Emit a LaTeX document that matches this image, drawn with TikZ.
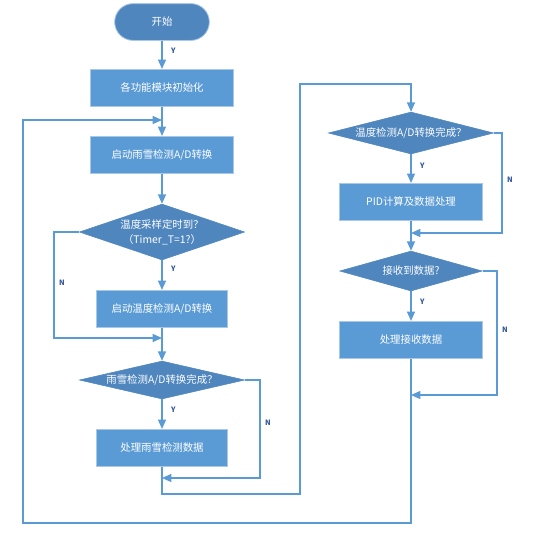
\documentclass[tikz,border=0pt]{standalone}
\usepackage{fontspec}
\setmainfont{Noto Sans CJK SC}
\usetikzlibrary{shapes.geometric,arrows.meta}
\definecolor{boxblue}{HTML}{5B9BD5}
\definecolor{decblue}{HTML}{4F86BE}
\definecolor{rimblue}{HTML}{A9C8E8}
\definecolor{tagblue}{HTML}{2F5597}
\begin{document}
\begin{tikzpicture}[x=0.75pt,y=-0.75pt,
    proc/.style={rectangle,fill=boxblue,draw=rimblue,line width=0.6pt,inner sep=0,
      minimum width=107pt,minimum height=28pt,text=white,font=\fontsize{7.8}{10}\selectfont},
    dec/.style={diamond,fill=decblue,draw=decblue,inner sep=0,minimum width=124pt},
    dtext/.style={text=white,font=\fontsize{7.8}{11}\selectfont,align=center},
    term/.style={rectangle,rounded corners=13.8pt,fill=decblue,draw=rimblue,line width=0.6pt,
      minimum width=71pt,minimum height=27.6pt,text=white,font=\fontsize{7.8}{10}\selectfont},
    flow/.style={draw=boxblue,line width=0.9pt},
    go/.style={flow,-{Triangle[length=7pt,width=6pt]}},
    tag/.style={text=tagblue,font=\fontsize{5.5}{6}\selectfont\bfseries}]

    \useasboundingbox (0,0) rectangle (538,537);

    %% Flow chart of main loop

    % Left column
    \node[term] (start) at (162,22) {开始};
    \node[proc] (init) at (162,88) {各功能模块初始化};
    \node[proc] (rain) at (162,155) {启动雨雪检测A/D转换};
    \node[dec,minimum height=42pt,label={[dtext]center:温度采样定时到？\\（Timer\_T=1?）}] (timer) at (162,232) {};
    \node[proc,minimum width=98pt] (temp) at (162,309) {启动温度检测A/D转换};
    \node[dec,minimum height=28.5pt,label={[dtext]center:雨雪检测A/D转换完成？}] (raindone) at (162,380) {};
    \node[proc,minimum width=98pt] (rainproc) at (162,448) {处理雨雪检测数据};

    % Right column
    \node[dec,minimum height=31.5pt,label={[dtext]center:温度检测A/D转换完成？}] (tempdone) at (411,133) {};
    \node[proc] (pid) at (411,202) {PID计算及数据处理};
    \node[dec,minimum width=107pt,minimum height=30pt,label={[dtext]center:接收到数据?}] (recv) at (411,271) {};
    \node[proc] (recvproc) at (411,340) {处理接收数据};

    % Joints
    \coordinate (j0) at (162,120);
    \coordinate (j1) at (162,338);
    \coordinate (j2) at (162,478);
    \coordinate (j3) at (411,233);
    \coordinate (j4) at (411,395);

    % Main arrows
    \draw[go] (start) -- (init) node[tag,pos=0.35,right=3pt] {Y};
    \draw[go] (init) -- (rain);
    \draw[go] (rain) -- (timer);
    \draw[go] (timer) -- (temp) node[tag,pos=0.3,right=3pt] {Y};
    \draw[flow] (temp) -- (j1);
    \draw[go] (j1) -- (raindone);
    \draw[go] (raindone) -- (rainproc) node[tag,pos=0.35,right=3pt] {Y};
    \draw[go] (rainproc.south) -- (162,494) -- (300,494) -- (300,84) -- (411,84) -- (tempdone.north);
    \draw[go] (tempdone) -- (pid) node[tag,pos=0.4,right=3pt] {Y};
    \draw[flow] (pid) -- (j3);
    \draw[go] (j3) -- (recv);
    \draw[go] (recv) -- (recvproc) node[tag,pos=0.35,right=3pt] {Y};
    \draw[go] (recvproc.south) -- (411,523) -- (23,523) -- (23,120) -- (j0);

    % No branches
    \draw[go] (timer.west) -- (54,232) -- (54,338) -- (j1);
    \draw[go] (raindone.east) -- (260,380) -- (260,478) -- (j2);
    \draw[go] (tempdone.east) -- (502,133) -- (502,233) -- (j3);
    \draw[go] (recv.east) -- (497,271) -- (497,395) -- (j4);
    \node[tag] (n1) at (62,283) {N};
    \node[tag] (n2) at (268,423) {N};
    \node[tag] (n3) at (510,180) {N};
    \node[tag] (n4) at (505,330) {N};

\end{tikzpicture}
\end{document}
